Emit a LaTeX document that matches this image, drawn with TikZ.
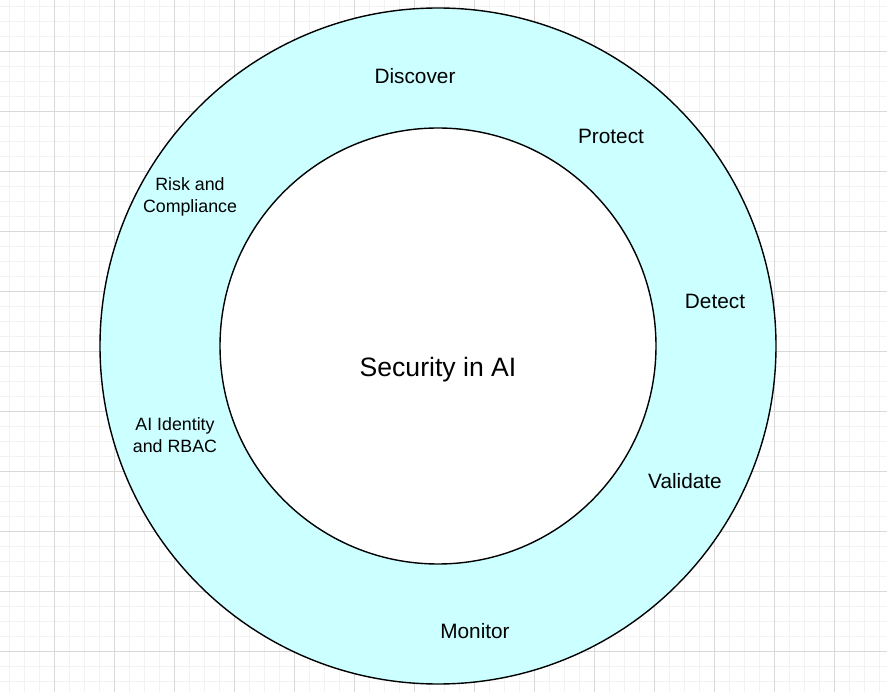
\documentclass[tikz,border=0pt]{standalone}
\usepackage{fontspec}
\setmainfont{Liberation Sans}
\definecolor{ringfill}{HTML}{CCFFFF}
\definecolor{majorline}{HTML}{D9D9D9}
\definecolor{minorline}{HTML}{F2F2F2}
\tikzset{
  minorgrid/.style={minorline, line width=0.8pt},
  majorgrid/.style={majorline, line width=0.8pt},
  stage/.style={font=\fontsize{20.8}{25}\selectfont, align=center},
  smallstage/.style={font=\fontsize{17.8}{22}\selectfont, align=center},
}
\begin{document}
\begin{tikzpicture}[x=1pt, y=-1pt]
  \useasboundingbox (0,0) rectangle (887,692);
  \fill [white] (0,0) rectangle (887,692);

  % background grid
  \foreach \x in {9,24,...,887} \draw [minorgrid] (\x,0) -- (\x,692);
  \foreach \y in {6,21,...,692} \draw [minorgrid] (0,\y) -- (887,\y);
  \foreach \x in {54,114,...,887} \draw [majorgrid] (\x,0) -- (\x,692);
  \foreach \y in {51,111,...,692} \draw [majorgrid] (0,\y) -- (887,\y);

  % rings
  \node (ring) [circle, draw, line width=1.4pt, fill=ringfill,
                minimum size=676pt, inner sep=0pt] at (438,346) {};
  \node (core) [circle, draw, line width=1.4pt, fill=white,
                minimum size=436pt, inner sep=0pt] at (438,346) {};
  \node (title) [font=\fontsize{26.6}{32}\selectfont] at (438,370) {Security in AI};

  % stages round the ring
  \node (discover) [stage] at (415,76)  {Discover};
  \node (protect)  [stage] at (611,136) {Protect};
  \node (detect)   [stage] at (715,301) {Detect};
  \node (validate) [stage] at (685,481) {Validate};
  \node (monitor)  [stage] at (475,631) {Monitor};
  \node (risk)     [smallstage] at (190,197) {Risk and\\Compliance};
  \node (identity) [smallstage] at (175,435) {AI Identity\\and RBAC};
\end{tikzpicture}
\end{document}
